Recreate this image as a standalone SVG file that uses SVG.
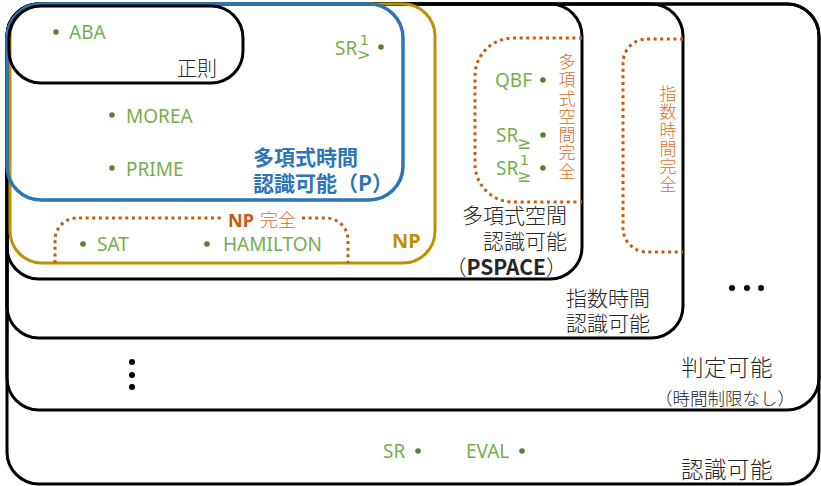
<svg xmlns="http://www.w3.org/2000/svg" width="821" height="486" viewBox="0 0 821 486">
<style>
.box{fill:none;stroke:#000;stroke-width:3}
.blue{fill:none;stroke:#2e75b6;stroke-width:3.5}
.gold{fill:none;stroke:#bf9000;stroke-width:3}
.dot{fill:none;stroke:#c55a11;stroke-width:3;stroke-dasharray:3 3.6}
.g{font-family:"Noto Sans","Liberation Sans",sans-serif;font-size:19px;fill:#74ae4c}
.gs{font-family:"DejaVu Sans","Noto Sans",sans-serif;font-size:14px;fill:#74ae4c}
.b{fill:#548235}
.jp{font-family:"Noto Sans CJK JP","Noto Sans",sans-serif;font-size:21px;font-weight:300;fill:#262626}
.bt{font-family:"Noto Sans CJK JP","Noto Sans",sans-serif;font-size:21px;font-weight:bold;fill:#2e75b6}
.ov{font-family:"Noto Sans CJK JP","Noto Sans",sans-serif;font-size:17px;font-weight:300;fill:#d2712f;writing-mode:vertical-rl;letter-spacing:1.3px}
.k{fill:#000}
</style>
<g id="recognizable"><rect class="box" x="7" y="4" width="812" height="480" rx="32"/>
<text class="jp" x="773" y="478" text-anchor="end" style="font-size:22.5px;letter-spacing:0.5px">認識可能</text>
<circle class="b" cx="418" cy="451" r="2.8"/><text class="g" x="383" y="458">SR</text>
<circle class="b" cx="522" cy="451" r="2.8"/><text class="g" x="466" y="458">EVAL</text></g>
<g id="decidable"><rect class="box" x="7" y="4" width="812" height="406" rx="32"/>
<text class="jp" text-anchor="end"><tspan x="773" y="376" style="font-size:22.5px;letter-spacing:0.5px">判定可能</tspan><tspan x="795" y="405" style="font-size:17.5px">（時間制限なし）</tspan></text>
<circle class="k" cx="132" cy="362" r="3"/><circle class="k" cx="132" cy="375" r="3"/><circle class="k" cx="132" cy="387" r="3"/>
<circle class="k" cx="732" cy="288" r="3"/><circle class="k" cx="747" cy="288" r="3"/><circle class="k" cx="761" cy="288" r="3"/></g>
<g id="exptime"><rect class="box" x="7" y="4" width="676" height="334" rx="32"/>
<text class="jp" text-anchor="end"><tspan x="650" y="306">指数時間</tspan><tspan x="650" y="331">認識可能</tspan></text></g>
<g id="pspace"><rect class="box" x="7" y="4" width="575" height="275" rx="32"/>
<text class="jp" text-anchor="end"><tspan x="567" y="223">多項式空間</tspan><tspan x="567" y="249">認識可能</tspan><tspan x="567" y="275">（<tspan style="font-weight:bold">PSPACE</tspan>）</tspan></text>
<text class="g" x="495" y="87">QBF</text><circle class="b" cx="543" cy="80" r="2.8"/>
<text class="g" x="496" y="142">SR</text><text class="gs" x="517" y="149" style="font-size:17px">≥</text><circle class="b" cx="543" cy="135" r="2.8"/>
<text class="g" x="496" y="175">SR</text><text class="gs" x="520" y="165">1</text><text class="gs" x="517" y="182" style="font-size:17px">≥</text><circle class="b" cx="543" cy="168" r="2.8"/></g>
<g id="np"><rect class="gold" x="10" y="4" width="425" height="259" rx="32"/>
<text x="392" y="248" font-family="Noto Sans,Liberation Sans,sans-serif" font-size="20" font-weight="bold" fill="#bf9000">NP</text>
<circle class="b" cx="83" cy="244" r="2.8"/><text class="g" x="97" y="251">SAT</text>
<circle class="b" cx="207" cy="244" r="2.8"/><text class="g" x="223" y="251">HAMILTON</text></g>
<g id="p"><rect class="blue" x="7" y="4" width="396" height="196" rx="34"/>
<text class="bt"><tspan x="253" y="165">多項式時間</tspan><tspan x="253" y="191">認識可能（P）</tspan></text>
<text class="g" x="335" y="55">SR</text><text class="gs" x="360" y="45">1</text><text class="gs" x="357" y="60" style="font-size:16px">&gt;</text><circle class="b" cx="381" cy="47" r="2.8"/>
<circle class="b" cx="112" cy="115" r="2.8"/><text class="g" x="126" y="123">MOREA</text>
<circle class="b" cx="112" cy="168" r="2.8"/><text class="g" x="126" y="176">PRIME</text></g>
<g id="regular"><rect class="box" x="9" y="6" width="234" height="77" rx="32"/>
<circle class="b" cx="56" cy="32" r="2.8"/><text class="g" x="69" y="39">ABA</text>
<text class="jp" x="177" y="76" style="font-size:20px">正則</text></g>
<g id="connectors">
<path class="dot" d="M55,263 V240 A22,22 0 0 1 77,218 H224"/>
<path class="dot" d="M302,218 H326 A22,22 0 0 1 348,240 V263"/>
<path class="dot" d="M582,38 H513 A38,38 0 0 0 475,76 V164 A38,38 0 0 0 513,202 H582"/>
<path class="dot" d="M683,39 H647 A24,24 0 0 0 623,63 V228 A24,24 0 0 0 647,252 H683"/>
</g>
<g id="labels">
<text x="228" y="227" font-family="Noto Sans,Liberation Sans,sans-serif" font-size="18" font-weight="bold" fill="#c55a11">NP</text>
<text x="260" y="227" font-family="Noto Sans CJK JP,sans-serif" font-size="18" font-weight="300" fill="#d2712f">完全</text>
<text class="ov" x="567" y="53">多項式空間完全</text>
<text class="ov" x="668" y="85">指数時間完全</text>
</g>
</svg>
